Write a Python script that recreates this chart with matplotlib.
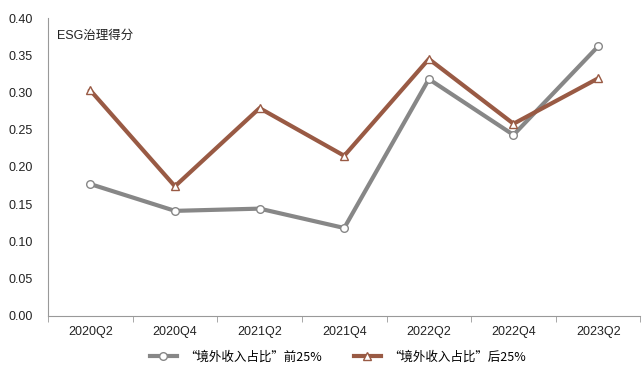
import matplotlib.pyplot as plt

plt.rcParams['font.family'] = ['Liberation Sans', 'Noto Sans CJK SC', 'DejaVu Sans']

quarters = ['2020Q2', '2020Q4', '2021Q2', '2021Q4', '2022Q2', '2022Q4', '2023Q2']
top25 = [0.177, 0.141, 0.144, 0.118, 0.318, 0.243, 0.362]
bottom25 = [0.303, 0.174, 0.279, 0.215, 0.345, 0.258, 0.319]

fig = plt.figure(figsize=(6.44, 3.76), dpi=100)
ax = fig.add_axes([0.0745, 0.16, 0.92, 0.792])

x = list(range(len(quarters)))
ax.plot(x, top25, color='#878787', lw=3, marker='o', ms=5.5, mfc='white',
        mec='#878787', mew=1, label='“境外收入占比”前25%')
ax.plot(x, bottom25, color='#995a44', lw=3, marker='^', ms=5.5, mfc='white',
        mec='#995a44', mew=1, label='“境外收入占比”后25%')

ax.set_xlim(-0.5, len(quarters) - 0.5)
ax.set_ylim(0, 0.40)
ax.set_yticks([i * 0.05 for i in range(9)])
ax.set_yticklabels(['%.2f' % (i * 0.05) for i in range(9)])
ax.set_xticks(x)
ax.set_xticklabels(quarters)
ax.set_xticks([i - 0.5 for i in range(len(quarters) + 1)], minor=True)
ax.tick_params(axis='x', which='major', length=0, pad=7, labelsize=9, colors='#222222')
ax.tick_params(axis='x', which='minor', length=4, color='#999999')
ax.tick_params(axis='y', length=0, pad=11, labelsize=9, colors='#222222')

for s in ['top', 'right']:
    ax.spines[s].set_visible(False)
for s in ['left', 'bottom']:
    ax.spines[s].set_color('#999999')

ax.text(0.015, 0.94, 'ESG治理得分', transform=ax.transAxes, fontsize=9,
        va='center', ha='left', color='#222222')

leg = fig.legend(loc='center', bbox_to_anchor=(0.525, 0.05), ncol=2, frameon=False,
                 prop={'family': ['Noto Sans CJK SC', 'DejaVu Sans'], 'size': 9},
                 handlelength=2.2, handletextpad=0.6, columnspacing=2.5)

fig.savefig('out.png', dpi=100)
